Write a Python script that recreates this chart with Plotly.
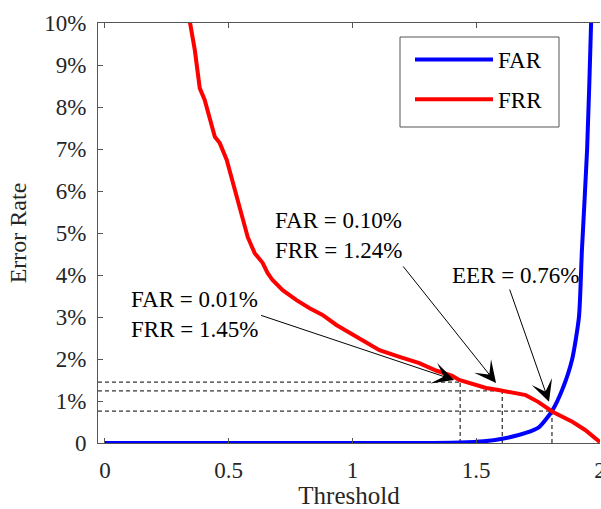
import plotly.graph_objects as go

# ---- data ----
frr_x = [0.335, 0.343, 0.363, 0.383, 0.403, 0.444, 0.464, 0.492, 0.544, 0.577, 0.605, 0.637,
         0.657, 0.677, 0.718, 0.774, 0.827, 0.879, 0.935, 0.988, 1.04, 1.109, 1.19, 1.27,
         1.34, 1.403, 1.431, 1.472, 1.54, 1.59, 1.63, 1.70, 1.75, 1.81, 1.89, 1.94, 2.0]
frr_y = [10.3, 10.0, 9.36, 8.45, 8.17, 7.29, 7.14, 6.74, 5.62, 4.9, 4.52, 4.29,
         4.05, 3.88, 3.64, 3.40, 3.21, 3.05, 2.81, 2.62, 2.45, 2.21, 2.05, 1.90,
         1.72, 1.60, 1.50, 1.43, 1.31, 1.26, 1.22, 1.14, 0.98, 0.74, 0.50, 0.31, 0.02]

far_x = [0.0, 0.5, 1.0, 1.3, 1.435, 1.53, 1.605, 1.70, 1.754, 1.806, 1.847, 1.887,
         1.915, 1.927, 1.948, 1.964, 1.975]
far_y = [0.0, 0.0, 0.0, 0.0, 0.01, 0.04, 0.10, 0.24, 0.38, 0.76, 1.26, 1.98,
         3.0, 4.6, 7.0, 10.0, 13.0]

op_x = [1.435, 1.605, 1.806]          # operating thresholds
op_y = [1.45, 1.24, 0.76]             # FRR at those thresholds

ytick_vals = [0, 1, 2, 3, 4, 5, 6, 7, 8, 9, 10]
ytick_text = ["0", "1%", "2%", "3%", "4%", "5%", "6%", "7%", "8%", "9%", "10%"]
xtick_vals = [0, 0.5, 1, 1.5, 2]
xtick_text = ["0", "0.5", "1", "1.5", "2"]

labels = ["FAR = 0.01%<br>FRR = 1.45%", "FAR = 0.10%<br>FRR = 1.24%", "EER = 0.76%"]
label_pos = [(0.363, 3.05), (0.945, 4.93), (1.66, 4.0)]
arrow_tail = [(0.625, 3.05), (1.20, 4.24), (1.633, 3.69)]
arrow_tip = [(1.411, 1.50), (1.58, 1.43), (1.794, 0.98)]

XMIN = -0.028
FONT = "Times New Roman, Liberation Serif, DejaVu Serif, serif"
FS = 23

fig = go.Figure()

# dashed guide lines
for xv, yv in zip(op_x, op_y):
    fig.add_trace(go.Scatter(x=[XMIN, xv], y=[yv, yv], mode="lines",
                             line=dict(color="black", width=1, dash="4px,3px"),
                             showlegend=False, hoverinfo="skip"))
    fig.add_trace(go.Scatter(x=[xv, xv], y=[0, yv], mode="lines",
                             line=dict(color="black", width=1, dash="4px,3px"),
                             showlegend=False, hoverinfo="skip"))

fig.add_trace(go.Scatter(x=far_x, y=far_y, mode="lines", name="FAR",
                         line=dict(color="#0000ff", width=4, shape="spline", smoothing=0.6),
                         legendgroup="a"))
fig.add_trace(go.Scatter(x=frr_x, y=frr_y, mode="lines", name="FRR",
                         line=dict(color="#ff0000", width=4),
                         legendgroup="b"))

for lab, (tx, ty) in zip(labels, label_pos):
    fig.add_annotation(x=tx, y=ty, xref="x", yref="y", text=lab, showarrow=False,
                       font=dict(family=FONT, size=FS, color="black"), align="left")

for (ax_, ay_), (hx, hy) in zip(arrow_tail, arrow_tip):
    fig.add_annotation(x=hx, y=hy, xref="x", yref="y", ax=ax_, ay=ay_,
                       axref="x", ayref="y", text="", showarrow=True,
                       arrowhead=3, arrowsize=3.6, arrowwidth=1, arrowcolor="black")

# legend frame (drawn as a shape so its size matches)
PL, PR, PT, PB = 98, 600, 23, 443
def px2paper_x(p):
    return (p - PL) / (PR - PL)
def px2paper_y(p):
    return (PB - p) / (PB - PT)

fig.add_shape(type="rect", xref="paper", yref="paper",
              x0=px2paper_x(400), x1=px2paper_x(559),
              y0=px2paper_y(127), y1=px2paper_y(37),
              line=dict(color="#555555", width=1), fillcolor="white", layer="below")

fig.update_layout(
    width=601, height=509,
    margin=dict(l=PL, r=601 - PR, t=PT, b=509 - PB),
    paper_bgcolor="white", plot_bgcolor="white",
    font=dict(family=FONT, size=FS, color="#262626"),
    showlegend=True,
    legend=dict(x=px2paper_x(410), y=px2paper_y(38), xanchor="left", yanchor="top",
                borderwidth=0, bgcolor="rgba(0,0,0,0)",
                font=dict(family=FONT, size=FS, color="black"),
                itemwidth=78, traceorder="grouped", tracegroupgap=7),
)
fig.update_xaxes(range=[XMIN, 2.0], tickvals=xtick_vals, ticktext=xtick_text,
                 ticks="inside", ticklen=5, tickcolor="#555555",
                 showline=True, linecolor="#555555", linewidth=1, mirror="ticks",
                 showgrid=False, zeroline=False, automargin=False,
                 ticklabeloverflow="allow", ticklabelstandoff=6,
                 title=dict(text="Threshold", standoff=3, font=dict(family=FONT, size=25)),
                 tickfont=dict(family=FONT, size=FS, color="#262626"))
fig.update_yaxes(range=[0, 10], tickvals=ytick_vals, ticktext=ytick_text,
                 ticks="inside", ticklen=5, tickcolor="#555555",
                 showline=True, linecolor="#555555", linewidth=1,
                 showgrid=False, zeroline=False, automargin=False,
                 ticklabelstandoff=6,
                 title=dict(text="Error Rate", standoff=10, font=dict(family=FONT, size=24)),
                 tickfont=dict(family=FONT, size=FS, color="#262626"))

fig.write_html("out.html")
